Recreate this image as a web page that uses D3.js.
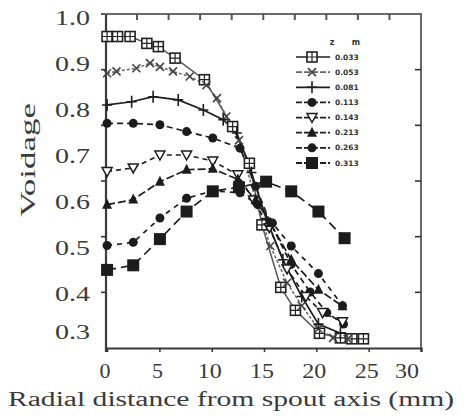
<!DOCTYPE html>
<html><head><meta charset="utf-8">
<script src="https://cdn.jsdelivr.net/npm/d3@7"></script>
<style>body{margin:0;background:#fff}svg{display:block}</style>
</head><body>
<script>
// ---- data ----
const seriesNames = ["0.033","0.053","0.081","0.113","0.143","0.213","0.263","0.313"];
const sA = [[0,0.956],[1.0,0.956],[2.2,0.956],[3.8,0.941],[4.9,0.934],[6.5,0.909],[9.3,0.862],[12.0,0.76],[13.6,0.68],[14.8,0.546],[16.6,0.41],[18.0,0.36],[20.3,0.31],[22.3,0.30],[23.4,0.298],[24.5,0.298]];
const sB = [[0,0.876],[0.9,0.88],[2.8,0.887],[4.1,0.898],[5.05,0.89],[6.3,0.88],[7.9,0.869],[9.5,0.85],[10.5,0.822],[11.4,0.782],[12.6,0.73],[14.2,0.60],[15.6,0.50],[17.2,0.42],[18.6,0.37],[20.2,0.32],[21.6,0.30],[23.0,0.298]];
const sC = [[0,0.807],[2.35,0.814],[4.4,0.825],[6.8,0.818],[9.2,0.796],[11.1,0.775],[12.4,0.746],[13.8,0.66],[15.2,0.56],[16.8,0.47],[18.6,0.39],[20.2,0.33],[22.3,0.31]];
const sD = [[0,0.767],[2.5,0.767],[5.05,0.764],[7.6,0.749],[10.1,0.735],[12.7,0.713],[14.2,0.63],[15.6,0.55],[17.6,0.46],[19.4,0.40],[21.0,0.355],[22.6,0.33]];
const sE = [[0,0.662],[2.5,0.67],[5.05,0.698],[7.6,0.698],[10.1,0.685],[12.5,0.655],[14.0,0.60],[15.5,0.54],[17.2,0.45],[19.0,0.39],[20.6,0.355],[22.5,0.335]];
const sF = [[0,0.59],[2.5,0.601],[5.05,0.64],[7.6,0.666],[10.1,0.668],[12.5,0.645],[14.2,0.60],[15.6,0.55],[17.6,0.47],[20.2,0.405],[22.5,0.369]];
const sG = [[0,0.501],[2.5,0.508],[5.05,0.561],[7.6,0.604],[10.1,0.62],[12.7,0.616],[14.4,0.59],[15.8,0.55],[17.6,0.50],[20.2,0.44],[22.5,0.37]];
const sH = [[0,0.448],[2.5,0.458],[5.05,0.515],[7.6,0.575],[10.1,0.619],[12.6,0.628],[15.2,0.64],[17.6,0.619],[20.2,0.575],[22.7,0.517]];
const xTicks = [0,5,10,15,20,25,30];
const yTicks = [1.0,0.9,0.8,0.7,0.6,0.5,0.4,0.3];
const xLabel = "Radial distance from spout axis (mm)";
const yLabel = "Voidage";
const legendHead = ["z","m"];

// ---- setup ----
const W=469,H=418;
const svg=d3.select("body").append("svg").attr("width",W).attr("height",H);
const x=d3.scaleLinear().domain([-0.15,30]).range([105.5,421]);
const y=d3.scaleLinear().domain([0.278,1.005]).range([348,14]);
const xAux=d3.scaleLinear().domain([0,10]).range([105.5,421]);
const yAux=d3.scaleLinear().domain([0,6]).range([348,14]);
const ink="#1c1c1c";
const font="'Liberation Serif', 'Times New Roman', serif";
const txt="#3a3a3a";

svg.append("path").attr("d",`M${x.range()[0]},${y.range()[1]}H${x.range()[1]}V${y.range()[0]}`)
  .attr("fill","none").attr("stroke","#6a6a6a").attr("stroke-width",2);
svg.append("g").selectAll("line").data(d3.range(1,10)).join("line")
  .attr("x1",d=>xAux(d)).attr("x2",d=>xAux(d)).attr("y1",14).attr("y2",20)
  .attr("stroke","#555").attr("stroke-width",2);
svg.append("g").selectAll("line").data(d3.range(1,6)).join("line")
  .attr("x1",421).attr("x2",415).attr("y1",d=>yAux(d)).attr("y2",d=>yAux(d))
  .attr("stroke","#333").attr("stroke-width",1.6);
svg.append("g").selectAll("line").data(d3.range(1,7)).join("line")
  .attr("x1",105.5).attr("x2",101).attr("y1",d=>yAux(d)).attr("y2",d=>yAux(d))
  .attr("stroke","#333").attr("stroke-width",1.6);
const gx=svg.append("g").attr("transform","translate(0,348)")
  .call(d3.axisBottom(x).tickValues(xTicks).tickSize(4).tickFormat(""));
gx.select(".domain").attr("stroke","#3a3a3a").attr("stroke-width",2.2);
gx.selectAll(".tick line").attr("stroke","#333").attr("stroke-width",1.5);
const gy=svg.append("g").attr("transform","translate(105.5,0)")
  .call(d3.axisLeft(y).tickValues([]).tickSizeOuter(0));
gy.select(".domain").attr("stroke","#3a3a3a").attr("stroke-width",2.2);

svg.append("g").selectAll("text").data(xTicks).join("text")
  .attr("x",d=>x(d)-(d===30?14:2)).attr("y",378).attr("text-anchor","middle")
  .attr("font-family",font).attr("font-size",20).attr("fill",txt)
  .attr("textLength",d=>d<10?11:24).attr("lengthAdjust","spacingAndGlyphs").text(d=>d);
svg.append("g").selectAll("text").data(yTicks).join("text")
  .attr("x",90).attr("y",d=>y(d)+(d<0.35?-6:2)).attr("dy","0.35em").attr("text-anchor","end")
  .attr("font-family",font).attr("font-size",20).attr("fill",txt)
  .attr("textLength",35).attr("lengthAdjust","spacingAndGlyphs").text(d=>d.toFixed(1));
svg.append("text").attr("x",231).attr("y",406).attr("text-anchor","middle")
  .attr("font-family",font).attr("font-size",20).attr("fill",txt)
  .attr("textLength",446).attr("lengthAdjust","spacingAndGlyphs").text(xLabel);
svg.append("text").attr("transform","translate(35,160) rotate(-90)").attr("text-anchor","middle")
  .attr("font-family",font).attr("font-size",21).attr("fill",txt)
  .attr("textLength",114).attr("lengthAdjust","spacingAndGlyphs").text(yLabel);

const styles=[
 {d:sA,m:"sqx",dash:null,w:1.5,col:"#555"},
 {d:sB,m:"x",dash:"3,2",w:1.5,col:"#666"},
 {d:sC,m:"plus",dash:null,w:1.7,col:ink},
 {d:sD,m:"circ",dash:"6,4",w:1.7,col:ink},
 {d:sE,m:"tridown",dash:"5,4",w:1.6,col:ink},
 {d:sF,m:"tri",dash:"8,3",w:1.7,col:ink},
 {d:sG,m:"circ",dash:"5,5",w:1.7,col:ink},
 {d:sH,m:"sq",dash:"9,5",w:1.7,col:ink}
];
const line=d3.line().x(d=>x(d[0])).y(d=>y(d[1]));
function marker(g,type,cx,cy,col){
  const s=g.append("g").attr("transform",`translate(${cx},${cy})`);
  switch(type){
   case "sqx": s.append("rect").attr("x",-5).attr("y",-5).attr("width",10).attr("height",10).attr("fill","#fff").attr("stroke","#222").attr("stroke-width",1.6);
     s.append("path").attr("d","M0,-5V5M-5,0H5").attr("stroke","#222").attr("stroke-width",1.2); break;
   case "x": s.append("path").attr("d","M-4,-4L4,4M-4,4L4,-4").attr("stroke","#444").attr("stroke-width",1.6); break;
   case "plus": s.append("path").attr("d","M0,-6V6M-5,0H5").attr("stroke",col).attr("stroke-width",1.6); break;
   case "circ": s.append("circle").attr("r",4.5).attr("fill",col); break;
   case "tridown": s.append("path").attr("d","M-5,-4H5L0,5Z").attr("fill","#fff").attr("stroke",col).attr("stroke-width",1.5); break;
   case "tri": s.append("path").attr("d","M-5,4H5L0,-6Z").attr("fill",col); break;
   case "sq": s.append("rect").attr("x",-6).attr("y",-6).attr("width",12).attr("height",12).attr("fill",col); break;
  }
}
const plot=svg.append("g");
styles.forEach(st=>{
  plot.append("path").datum(st.d).attr("d",line).attr("fill","none")
    .attr("stroke",st.col).attr("stroke-width",st.w).attr("stroke-dasharray",st.dash);
});
styles.forEach(st=>{
  st.d.forEach(p=>marker(plot,st.m,x(p[0]),y(p[1]),st.col));
});

const lg=svg.append("g");
lg.append("text").attr("x",332).attr("y",45).attr("font-family","DejaVu Sans").attr("font-size",8).attr("font-weight","bold").attr("text-anchor","middle").attr("fill","#333").text(legendHead[0]);
lg.append("text").attr("x",356).attr("y",45).attr("font-family","DejaVu Sans").attr("font-size",8).attr("font-weight","bold").attr("text-anchor","middle").attr("fill","#333").text(legendHead[1]);
const ly=d3.scalePoint().domain(d3.range(8)).range([57,163]);
styles.forEach((st,i)=>{
  const yy=ly(i);
  lg.append("line").attr("x1",296).attr("x2",330).attr("y1",yy).attr("y2",yy)
    .attr("stroke",st.col).attr("stroke-width",1.8).attr("stroke-dasharray",st.dash?"6,2":null);
  marker(lg,st.m,312,yy,st.col);
  lg.append("text").attr("x",335).attr("y",yy).attr("dy","0.35em")
    .attr("font-family","DejaVu Sans").attr("font-size",7.5).attr("font-weight","bold").attr("fill","#333").text(seriesNames[i]);
});
</script>
</body></html>
